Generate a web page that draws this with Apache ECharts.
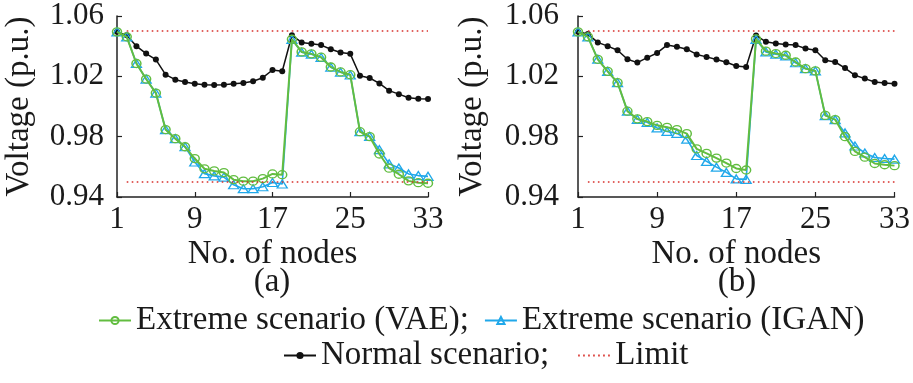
<!DOCTYPE html>
<html><head><meta charset="utf-8">
<script src="https://cdn.jsdelivr.net/npm/echarts@6/dist/echarts.min.js"></script>
<style>html,body{margin:0;padding:0;background:#fff}#c{width:913px;height:383px}</style>
</head><body><div id="c"></div><script>
const nodes = ['1','2','3','4','5','6','7','8','9','10','11','12','13','14','15','16','17','18','19','20','21','22','23','24','25','26','27','28','29','30','31','32','33'];
const yTicks = [0.94, 0.98, 1.02, 1.06];
const limits = [0.95, 1.05];

const normalA = [1.0495,1.0473,1.0400,1.0351,1.0311,1.0211,1.0178,1.0162,1.0151,1.0145,1.0143,1.0145,1.0151,1.0156,1.0167,1.0191,1.0242,1.0234,1.0472,1.0425,1.0416,1.0407,1.0380,1.0358,1.0349,1.0204,1.0189,1.0153,1.0105,1.0082,1.0058,1.0051,1.0049];
const vaeA = [1.0495,1.0462,1.0285,1.0182,1.0089,0.9847,0.9787,0.9733,0.9655,0.9587,0.9573,0.9562,0.9515,0.9505,0.9505,0.9522,0.9553,0.9548,1.0446,1.0362,1.0349,1.0327,1.0262,1.0229,1.0211,0.9833,0.9800,0.9685,0.9591,0.9551,0.9507,0.9495,0.9491];
const iganA = [1.0495,1.0462,1.0285,1.0182,1.0089,0.9847,0.9787,0.9733,0.9632,0.9555,0.9540,0.9532,0.9481,0.9455,0.9455,0.9468,0.9496,0.9486,1.0444,1.0360,1.0347,1.0325,1.0260,1.0227,1.0209,0.9833,0.9802,0.9714,0.9620,0.9592,0.9553,0.9542,0.9537];

const normalB = [1.0495,1.0480,1.0425,1.0400,1.0373,1.0313,1.0291,1.0324,1.0355,1.0407,1.0396,1.0380,1.0345,1.0329,1.0311,1.0293,1.0269,1.0262,1.0471,1.0429,1.0418,1.0411,1.0407,1.0385,1.0373,1.0307,1.0295,1.0255,1.0207,1.0185,1.0162,1.0156,1.0151];
const vaeB = [1.0495,1.0462,1.0313,1.0233,1.0158,0.9969,0.9918,0.9900,0.9875,0.9862,0.9847,0.9820,0.9719,0.9689,0.9658,0.9625,0.9589,0.9579,1.0448,1.0367,1.0351,1.0340,1.0295,1.0251,1.0236,0.9941,0.9913,0.9800,0.9702,0.9664,0.9622,0.9614,0.9608];
const iganB = [1.0495,1.0462,1.0313,1.0233,1.0158,0.9969,0.9915,0.9895,0.9858,0.9835,0.9822,0.9784,0.9675,0.9636,0.9598,0.9563,0.9520,0.9517,1.0445,1.0362,1.0347,1.0336,1.0290,1.0251,1.0236,0.9940,0.9913,0.9825,0.9738,0.9692,0.9662,0.9655,0.9651];

const FONT = '"Liberation Serif","Times New Roman",serif';
const GREEN = '#62bd40', BLUE = '#20a8ea', BLACK = '#111111', RED = '#d8302c';
const TXT = '#1a1a1a';

const grids = [
  {left: 117, top: 16, width: 311, height: 181},
  {left: 578, top: 16, width: 319, height: 181}
];
const yNameGap = [81, 89];
const yLabelMargin = [13, 19];

function xAxis(i) {
  return {
    type: 'category', gridIndex: i, data: nodes, boundaryGap: false,
    name: 'No. of nodes', nameLocation: 'middle', nameGap: 41,
    nameTextStyle: {fontFamily: FONT, fontSize: 33, color: TXT},
    axisLine: {lineStyle: {color: '#222', width: 1.5}},
    axisTick: {inside: true, length: 5, interval: 7, lineStyle: {color: '#222', width: 1.2}},
    axisLabel: {interval: 7, margin: 7, fontFamily: FONT, fontSize: 31, color: TXT},
    splitLine: {show: false}
  };
}
function yAxis(i) {
  return {
    type: 'value', gridIndex: i, min: 0.94, max: 1.06,
    name: 'Voltage (p.u.)', nameLocation: 'middle', nameGap: yNameGap[i],
    nameTextStyle: {fontFamily: FONT, fontSize: 33, color: TXT},
    axisLine: {show: true, lineStyle: {color: '#222', width: 1.5}},
    axisTick: {show: true, inside: true, length: 5, customValues: yTicks, lineStyle: {color: '#222', width: 1.2}},
    axisLabel: {customValues: yTicks, margin: yLabelMargin[i], fontFamily: FONT, fontSize: 31, color: TXT,
      formatter: v => v.toFixed(2)},
    splitLine: {show: false}
  };
}
function seriesFor(i, vae, igan, normal) {
  return [
    {name: 'Extreme scenario (IGAN)', type: 'line', xAxisIndex: i, yAxisIndex: i, data: igan,
      symbol: 'triangle', symbolSize: [10, 8], showAllSymbol: true, z: 3,
      lineStyle: {color: BLUE, width: 1.6}, itemStyle: {color: 'rgba(255,255,255,0)', borderColor: BLUE, borderWidth: 1.3}},
    {name: 'Extreme scenario (VAE)', type: 'line', xAxisIndex: i, yAxisIndex: i, data: vae,
      symbol: 'circle', symbolSize: [9, 8], showAllSymbol: true, z: 4,
      lineStyle: {color: GREEN, width: 2}, itemStyle: {color: 'rgba(255,255,255,0)', borderColor: GREEN, borderWidth: 1.4}},
    {name: 'Normal scenario', type: 'line', xAxisIndex: i, yAxisIndex: i, data: normal,
      symbol: 'circle', symbolSize: 6, showAllSymbol: true, z: 2,
      lineStyle: {color: BLACK, width: 1.5}, itemStyle: {color: BLACK}},
    {name: 'Limit', type: 'line', xAxisIndex: i, yAxisIndex: i, data: [], symbol: 'none', z: 1,
      lineStyle: {color: RED, width: 1.6, type: [1.6, 3.4]}, itemStyle: {color: 'rgba(0,0,0,0)', borderWidth: 0},
      markLine: {silent: true, symbol: 'none', label: {show: false},
        lineStyle: {color: RED, width: 1.6, type: [1.6, 3.4]},
        data: limits.map(v => [{coord: ['2', v]}, {coord: ['33', v]}])}}
  ];
}

const chart = echarts.init(document.getElementById('c'), null, {renderer: 'canvas'});
chart.setOption({
  animation: false,
  backgroundColor: '#fff',
  textStyle: {fontFamily: FONT},
  grid: grids,
  xAxis: [xAxis(0), xAxis(1)],
  yAxis: [yAxis(0), yAxis(1)],
  legend: [
    {data: ['Extreme scenario (VAE)', 'Extreme scenario (IGAN)'], left: 98, top: 304, padding: 0, itemWidth: 32, itemHeight: 9, itemGap: 15,
      textStyle: {fontFamily: FONT, fontSize: 33, color: TXT},
      formatter: n => n === 'Extreme scenario (VAE)' ? n + ';' : n},
    {data: ['Normal scenario', 'Limit'], left: 283, top: 339, padding: 0, itemWidth: 32, itemHeight: 9, itemGap: 28,
      textStyle: {fontFamily: FONT, fontSize: 33, color: TXT},
      formatter: n => n === 'Normal scenario' ? n + ';' : n}
  ],
  graphic: [
    {type: 'text', x: 272, y: 282, style: {text: '(a)', fontFamily: FONT, fontSize: 33, fill: TXT, align: 'center', verticalAlign: 'middle'}},
    {type: 'text', x: 737, y: 282, style: {text: '(b)', fontFamily: FONT, fontSize: 33, fill: TXT, align: 'center', verticalAlign: 'middle'}}
  ],
  series: [].concat(seriesFor(0, vaeA, iganA, normalA), seriesFor(1, vaeB, iganB, normalB))
});
</script></body></html>
